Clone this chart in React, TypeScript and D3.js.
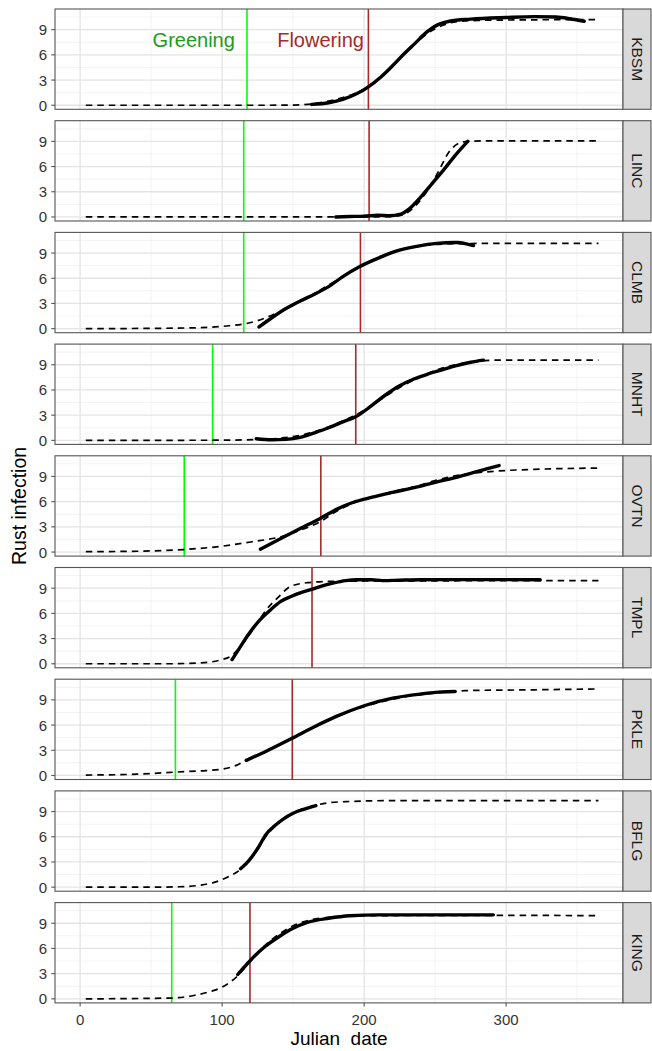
import React from "react";
import * as d3 from "d3";

type Pt = [number, number];

const sites = ["KBSM", "LINC", "CLMB", "MNHT", "OVTN", "TMPL", "PKLE", "BFLG", "KING"];
const greening: (number | null)[] = [117.5, 115.2, 115.2, 93.3, 73.3, null, 67.1, null, 64.5];
const flowering: (number | null)[] = [203, 203.5, 197.4, 194.1, 169.5, 163.3, 149.4, null, 119.6];

const xTicks = [0, 100, 200, 300];
const xMinor = [-50, 50, 150, 250, 350];
const yTicks = [0, 3, 6, 9];
const yMinor = [1.5, 4.5, 7.5, 10.5];

// Model fits (dashed)
const fitKBSM: Pt[] = [[4, 0], [60, 0], [120, 0], [150, 0.02], [165, 0.2], [180, 0.7], [195, 1.5], [205, 2.4], [215, 3.8], [225, 5.5], [235, 7.2], [245, 8.6], [255, 9.5], [265, 9.95], [280, 10.1], [300, 10.15], [365, 10.2]];
const fitLINC: Pt[] = [[4, 0], [100, 0], [200, 0], [220, 0.05], [228, 0.3], [236, 1.3], [244, 3.0], [252, 5.3], [260, 7.8], [267, 8.8], [273, 9.0], [285, 9.05], [365, 9.05]];
const fitCLMB: Pt[] = [[4, 0], [60, 0.05], [90, 0.15], [105, 0.35], [115, 0.55], [125, 0.95], [135, 1.6], [150, 2.8], [165, 4.2], [180, 5.7], [195, 7.2], [210, 8.5], [225, 9.4], [245, 9.95], [265, 10.12], [290, 10.15], [365, 10.15]];
const fitMNHT: Pt[] = [[4, 0], [100, 0.02], [124, 0.1], [140, 0.25], [155, 0.6], [170, 1.3], [185, 2.3], [195, 3.1], [210, 4.7], [225, 6.3], [240, 7.6], [255, 8.6], [270, 9.2], [285, 9.5], [300, 9.56], [365, 9.56]];
const fitOVTN: Pt[] = [[4, 0.05], [40, 0.1], [73, 0.3], [100, 0.7], [120, 1.2], [143, 1.9], [155, 2.6], [169, 3.6], [180, 4.8], [192, 5.8], [205, 6.5], [220, 7.2], [236, 7.8], [250, 8.5], [265, 9.1], [280, 9.45], [294, 9.65], [320, 9.85], [365, 10.0]];
const fitTMPL: Pt[] = [[4, 0], [60, 0], [84, 0.1], [100, 0.5], [106, 0.9], [115, 2.5], [123, 4.4], [131, 6.4], [140, 8.0], [148, 9.2], [160, 9.65], [175, 9.8], [200, 9.85], [365, 9.9]];
const fitPKLE: Pt[] = [[4, 0.05], [40, 0.15], [67, 0.4], [85, 0.55], [100, 0.75], [110, 1.2], [117, 1.8], [130, 2.8], [150, 4.5], [175, 6.6], [200, 8.2], [230, 9.4], [264, 10.0], [271, 10.1], [320, 10.2], [365, 10.3]];
const fitBFLG: Pt[] = [[4, 0], [50, 0], [70, 0.05], [85, 0.25], [95, 0.6], [105, 1.3], [113, 2.1], [119, 3.1], [125, 4.5], [131, 6.1], [137, 7.2], [145, 8.3], [155, 9.2], [166, 9.75], [175, 10.05], [190, 10.2], [220, 10.3], [365, 10.3]];
const fitKING: Pt[] = [[4, 0], [64, 0.1], [80, 0.4], [90, 0.8], [100, 1.4], [110, 2.6], [120, 4.5], [130, 6.3], [140, 7.7], [150, 8.7], [160, 9.3], [175, 9.7], [200, 9.9], [291, 9.95], [365, 9.9]];

// Observed smooths (solid)
const obsKBSM: Pt[] = [[163, 0.1], [175, 0.3], [185, 0.7], [195, 1.4], [203, 2.2], [212, 3.4], [220, 4.7], [228, 6.1], [236, 7.4], [244, 8.7], [252, 9.6], [260, 10.0], [275, 10.25], [300, 10.45], [320, 10.55], [335, 10.5], [345, 10.3], [355, 10.0]];
const obsLINC: Pt[] = [[180, 0], [190, 0.05], [200, 0.1], [210, 0.2], [218, 0.15], [225, 0.3], [232, 1.0], [240, 2.4], [248, 4.0], [256, 5.6], [264, 7.3], [273, 9.0]];
const obsCLMB: Pt[] = [[126, 0.2], [135, 1.3], [145, 2.4], [155, 3.3], [165, 4.1], [175, 5.0], [185, 6.2], [197, 7.4], [210, 8.4], [222, 9.2], [237, 9.8], [251, 10.15], [265, 10.25], [272, 10.1], [277, 9.9]];
const obsMNHT: Pt[] = [[124, 0.2], [135, 0.08], [145, 0.12], [155, 0.35], [165, 0.9], [175, 1.5], [185, 2.2], [194, 2.8], [205, 4.1], [215, 5.4], [225, 6.5], [235, 7.3], [245, 7.9], [255, 8.4], [265, 8.9], [275, 9.3], [284, 9.55]];
const obsOVTN: Pt[] = [[127, 0.35], [140, 1.5], [155, 2.8], [169, 4.0], [182, 5.2], [192, 5.9], [205, 6.5], [220, 7.1], [236, 7.7], [250, 8.3], [265, 8.9], [280, 9.6], [295, 10.3]];
const obsTMPL: Pt[] = [[107, 0.5], [112, 1.8], [119, 3.6], [126, 5.1], [134, 6.4], [141, 7.4], [148.5, 8.0], [156, 8.5], [163, 8.85], [170, 9.25], [178, 9.6], [187, 9.9], [195, 10.0], [205, 10.0], [213, 9.9], [225, 9.95], [240, 10.0], [280, 10.02], [324, 10.0]];
const obsPKLE: Pt[] = [[117, 1.8], [130, 2.8], [149, 4.4], [165, 5.8], [180, 7.0], [200, 8.3], [220, 9.2], [240, 9.7], [255, 9.95], [264, 10.0]];
const obsBFLG: Pt[] = [[113, 2.2], [119, 3.2], [125, 4.6], [131, 6.3], [137, 7.3], [143, 8.1], [150, 8.8], [158, 9.3], [166, 9.7]];
const obsKING: Pt[] = [[111, 2.9], [120, 4.6], [130, 6.2], [140, 7.4], [150, 8.4], [160, 9.1], [175, 9.6], [190, 9.9], [210, 10.0], [250, 10.0], [291, 10.0]];

const fits = [fitKBSM, fitLINC, fitCLMB, fitMNHT, fitOVTN, fitTMPL, fitPKLE, fitBFLG, fitKING];
const observed = [obsKBSM, obsLINC, obsCLMB, obsMNHT, obsOVTN, obsTMPL, obsPKLE, obsBFLG, obsKING];

const W = 652;
const H = 1051;
const PL = 55;
const PR = 623;
const STRIP_W = 28;
const TOP = 9;
const PH = 100.3;
const PITCH = 111.7;
const FONT = "'Liberation Sans', Arial, Helvetica, sans-serif";

export default function App() {
  const x = d3.scaleLinear().domain([-17.7, 382.3]).range([PL, PR]);
  const y = d3.scaleLinear().domain([-0.48, 11.46]).range([PH, 0]);
  const line = d3
    .line<Pt>()
    .x((d) => x(d[0]))
    .y((d) => y(d[1]))
    .curve(d3.curveMonotoneX);

  const lastBottom = TOP + (sites.length - 1) * PITCH + PH;

  return (
    <svg
      width={W}
      height={H}
      style={{ position: "absolute", left: 0, top: 0, background: "#fff" }}
      fontFamily={FONT}
    >
      <rect x={0} y={0} width={W} height={H} fill="#fff" />
      {sites.map((s, i) => {
        const ty = TOP + i * PITCH;
        return (
          <g key={s} transform={`translate(0,${ty})`}>
            <rect x={PL} y={0} width={PR - PL} height={PH} fill="#fff" />
            {yMinor.map((v) => (
              <line key={"ym" + v} x1={PL} x2={PR} y1={y(v)} y2={y(v)} stroke="#F0F0F0" strokeWidth={0.8} />
            ))}
            {xMinor.filter((v) => x(v) > PL).map((v) => (
              <line key={"xm" + v} x1={x(v)} x2={x(v)} y1={0} y2={PH} stroke="#F0F0F0" strokeWidth={0.8} />
            ))}
            {yTicks.map((v) => (
              <line key={"yg" + v} x1={PL} x2={PR} y1={y(v)} y2={y(v)} stroke="#E4E4E4" strokeWidth={1.3} />
            ))}
            {xTicks.map((v) => (
              <line key={"xg" + v} x1={x(v)} x2={x(v)} y1={0} y2={PH} stroke="#E4E4E4" strokeWidth={1.3} />
            ))}
            {greening[i] !== null && (
              <line x1={x(greening[i] as number)} x2={x(greening[i] as number)} y1={0} y2={PH} stroke="#00FF00" strokeWidth={1.6} />
            )}
            {flowering[i] !== null && (
              <line x1={x(flowering[i] as number)} x2={x(flowering[i] as number)} y1={0} y2={PH} stroke="#A52A2A" strokeWidth={1.6} />
            )}
            <path d={line(fits[i]) || ""} fill="none" stroke="#000" strokeWidth={1.7} strokeDasharray="6.5,5" />
            <path d={line(observed[i]) || ""} fill="none" stroke="#000" strokeWidth={3.4} strokeLinecap="round" />
            {i === 0 && (
              <g fontSize={20}>
                <text x={x(80)} y={y(7.8)} textAnchor="middle" dominantBaseline="central" fill="#1E9B1E">Greening</text>
                <text x={x(169.3)} y={y(7.8)} textAnchor="middle" dominantBaseline="central" fill="#A52A2A">Flowering</text>
              </g>
            )}
            <rect x={PL} y={0} width={PR - PL} height={PH} fill="none" stroke="#555" strokeWidth={1.1} />
            {yTicks.map((v) => (
              <g key={"yt" + v}>
                <line x1={PL - 3.7} x2={PL} y1={y(v)} y2={y(v)} stroke="#555" strokeWidth={1.1} />
                <text x={PL - 8} y={y(v)} textAnchor="end" dominantBaseline="central" fontSize={15} fill="#333">
                  {v}
                </text>
              </g>
            ))}
            <rect x={PR} y={0} width={STRIP_W} height={PH} fill="#D9D9D9" stroke="#555" strokeWidth={1.1} />
            <text
              transform={`translate(${PR + STRIP_W / 2},${PH / 2}) rotate(90)`}
              textAnchor="middle"
              dominantBaseline="central"
              fontSize={15.5}
              fill="#1A1A1A"
            >
              {s}
            </text>
          </g>
        );
      })}
      {xTicks.map((v) => (
        <g key={"xt" + v}>
          <line x1={x(v)} x2={x(v)} y1={lastBottom} y2={lastBottom + 3.7} stroke="#555" strokeWidth={1.1} />
          <text x={x(v)} y={lastBottom + 17} textAnchor="middle" dominantBaseline="central" fontSize={15} fill="#333">
            {v}
          </text>
        </g>
      ))}
      <text x={(PL + PR) / 2} y={1038.5} textAnchor="middle" dominantBaseline="central" fontSize={19} fill="#000" style={{ whiteSpace: "pre" }}>
        {"Julian  date"}
      </text>
      <text
        transform={`translate(18.5,${(TOP + lastBottom) / 2}) rotate(-90)`}
        textAnchor="middle"
        dominantBaseline="central"
        fontSize={19.5}
        fill="#000"
      >
        Rust infection
      </text>
    </svg>
  );
}
